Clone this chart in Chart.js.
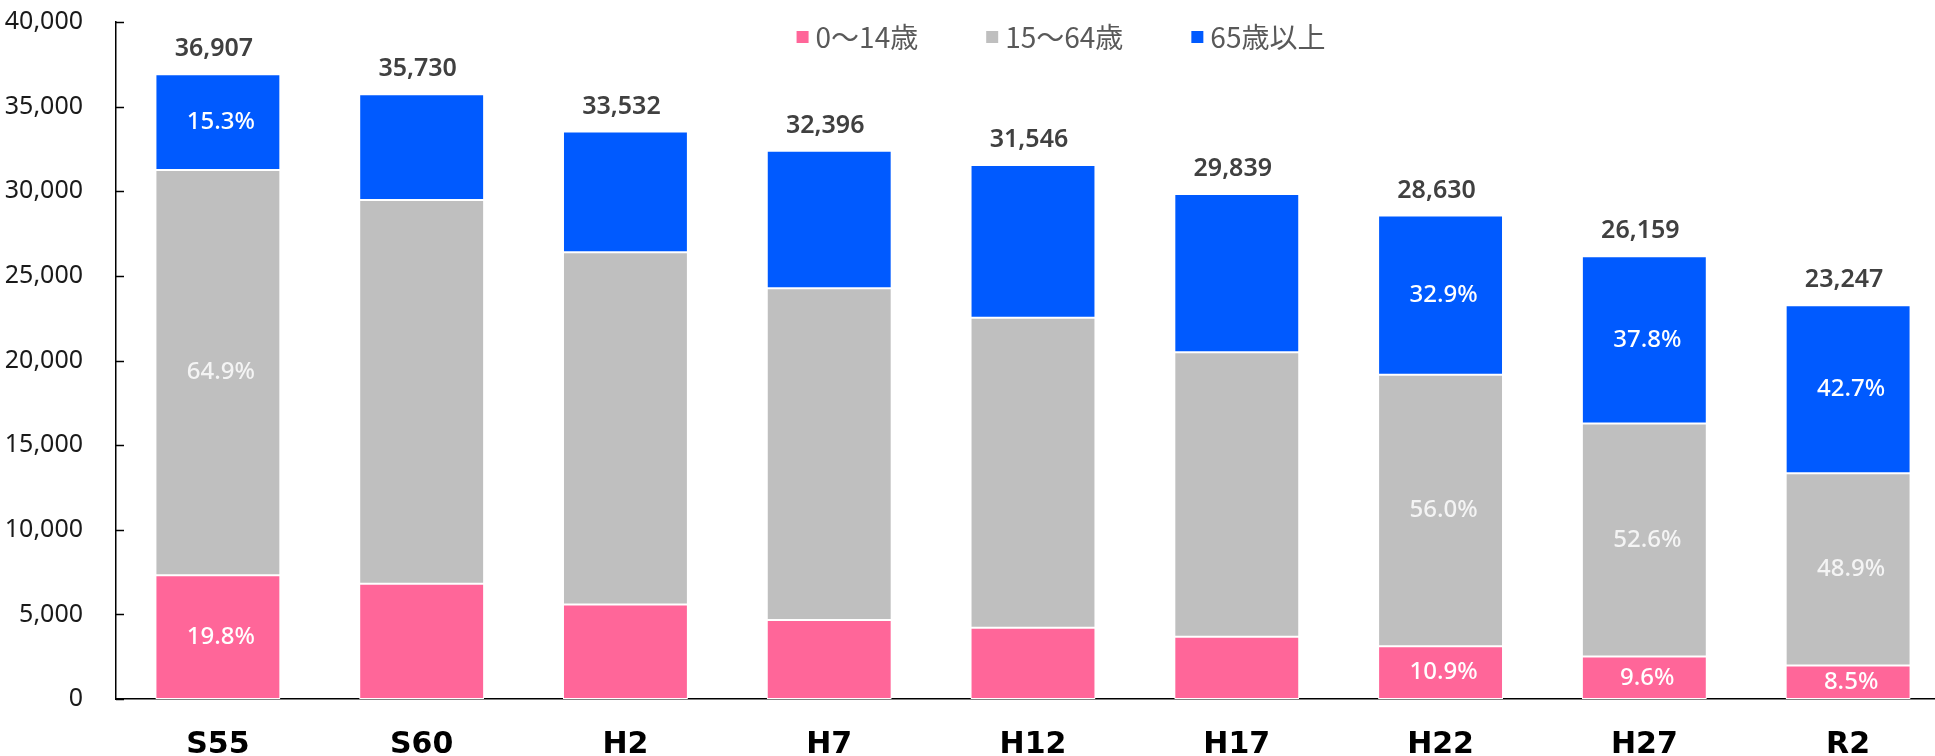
<!DOCTYPE html>
<html>
<head>
<meta charset="utf-8">
<script src="https://cdn.jsdelivr.net/npm/chart.js@4.4.1/dist/chart.umd.min.js"></script>
<style>
  html, body { margin: 0; padding: 0; background: #fff; overflow: hidden; }
  #wrap { width: 1950px; height: 756px; }
</style>
</head>
<body>
<div id="wrap"><canvas id="chart"></canvas></div>
<script>
(function () {
    "use strict";

    // data
    const years = ["S55", "S60", "H2", "H7", "H12", "H17", "H22", "H27", "R2"];
    const seriesNames = ["0～14歳", "15～64歳", "65歳以上"];
    const age0to14 = [7308, 6812, 5588, 4665, 4210, 3678, 3121, 2511, 1976];
    const age15to64 = [23953, 22664, 20814, 19608, 18313, 16811, 16033, 13760, 11368];
    const age65plus = [5647, 6254, 7130, 8123, 9023, 9350, 9419, 9888, 9926];
    const totals = [36907, 35730, 33532, 32396, 31546, 29839, 28630, 26159, 23247];
    const pct0to14 = ["19.8%", null, null, null, null, null, "10.9%", "9.6%", "8.5%"];
    const pct15to64 = ["64.9%", null, null, null, null, null, "56.0%", "52.6%", "48.9%"];
    const pct65plus = ["15.3%", null, null, null, null, null, "32.9%", "37.8%", "42.7%"];
    const yMax = 40000;
    const yStep = 5000;

    const colors = ["#FF6699", "#BFBFBF", "#005AFF"];
    const pctLists = [pct0to14, pct15to64, pct65plus];
    const numFont = "'Noto Sans', 'Open Sans', sans-serif";
    const jpFont = "'Noto Sans CJK JP', 'Noto Sans', sans-serif";

    const fmt = (v) => v.toLocaleString("en-US");

    // labels inside / above bars
    const barLabels = {
        id: "barLabels",
        afterDatasetsDraw(chart) {
            const ctx = chart.ctx;
            ctx.save();
            ctx.textAlign = "center";
            ctx.textBaseline = "middle";
            ctx.font = "500 24px " + numFont;
            pctLists.forEach((list, i) => {
                const meta = chart.getDatasetMeta(i);
                ctx.fillStyle = i === 1 ? "#F4F4F4" : "#FFFFFF";
                meta.data.forEach((bar, j) => {
                    if (!list[j]) return;
                    ctx.fillText(list[j], bar.x + 3, (bar.y + bar.base) / 2);
                });
            });
            const top = chart.getDatasetMeta(2);
            ctx.fillStyle = "#404040";
            ctx.font = "600 25px " + numFont;
            top.data.forEach((bar, j) => {
                ctx.fillText(fmt(totals[j]), bar.x - 4, bar.y - 25);
            });
            ctx.restore();
        },
    };

    // small ticks pointing into the plot
    const innerTicks = {
        id: "innerTicks",
        afterDraw(chart) {
            const ctx = chart.ctx;
            const y = chart.scales.y;
            ctx.save();
            ctx.strokeStyle = "#000";
            ctx.lineWidth = 1.5;
            y.ticks.forEach((t) => {
                const py = Math.round(y.getPixelForValue(t.value)) + 0.5;
                ctx.beginPath();
                ctx.moveTo(y.right, py);
                ctx.lineTo(y.right + 8, py);
                ctx.stroke();
            });
            ctx.restore();
        },
    };

    // legend laid over the top of the plot
    const topLegend = {
        id: "topLegend",
        afterDraw(chart) {
            const ctx = chart.ctx;
            const area = chart.chartArea;
            ctx.save();
            ctx.font = "28px " + jpFont;
            ctx.textBaseline = "middle";
            const box = 12, gapBox = 7, gapItem = 68;
            const widths = chart.data.datasets.map((d) => ctx.measureText(d.label).width);
            let total = widths.reduce((a, w) => a + box + gapBox + w, 0) + gapItem * (widths.length - 1);
            let x = (area.left + area.right) / 2 + 28 - total / 2;
            const cy = 37;
            chart.data.datasets.forEach((d, i) => {
                ctx.fillStyle = d.backgroundColor;
                ctx.fillRect(x, cy - box / 2, box, box);
                x += box + gapBox;
                ctx.fillStyle = "#595959";
                ctx.fillText(d.label, x, cy);
                x += widths[i] + gapItem;
            });
            ctx.restore();
        },
    };

    const ctx = document.getElementById("chart").getContext("2d");
    new Chart(ctx, {
        type: "bar",
        data: {
            labels: years,
            datasets: [age0to14, age15to64, age65plus].map((vals, i) => ({
                label: seriesNames[i],
                data: vals,
                backgroundColor: colors[i],
                borderColor: "#FFFFFF",
                borderWidth: 1,
                borderSkipped: false,
                barPercentage: 0.613,
                categoryPercentage: 1,
            })),
        },
        options: {
            responsive: true,
            maintainAspectRatio: false,
            animation: false,
            layout: {
                padding: { top: 22, right: 0, bottom: 0, left: 0 },
            },
            plugins: {
                legend: { display: false },
                tooltip: { enabled: false },
            },
            scales: {
                x: {
                    stacked: true,
                    grid: { display: false, drawTicks: false },
                    border: { color: "#000", width: 1.5 },
                    ticks: {
                        color: "#000",
                        padding: 28,
                        font: { family: "'DejaVu Sans', sans-serif", size: 30, weight: "bold" },
                    },
                    afterFit(scale) { scale.height = 57; },
                },
                y: {
                    stacked: true,
                    min: 0,
                    max: yMax,
                    grid: { display: false, drawTicks: false },
                    border: { color: "#000", width: 1.5 },
                    ticks: {
                        stepSize: yStep,
                        color: "#1A1A1A",
                        padding: 33,
                        font: { family: numFont, size: 25 },
                        callback: (v) => fmt(v),
                    },
                    afterFit(scale) {
                        scale.width = 116;
                        scale.paddingTop = 0;
                        scale.paddingBottom = 0;
                    },
                },
            },
        },
        plugins: [barLabels, innerTicks, topLegend],
    });
})();
</script>
</body>
</html>
